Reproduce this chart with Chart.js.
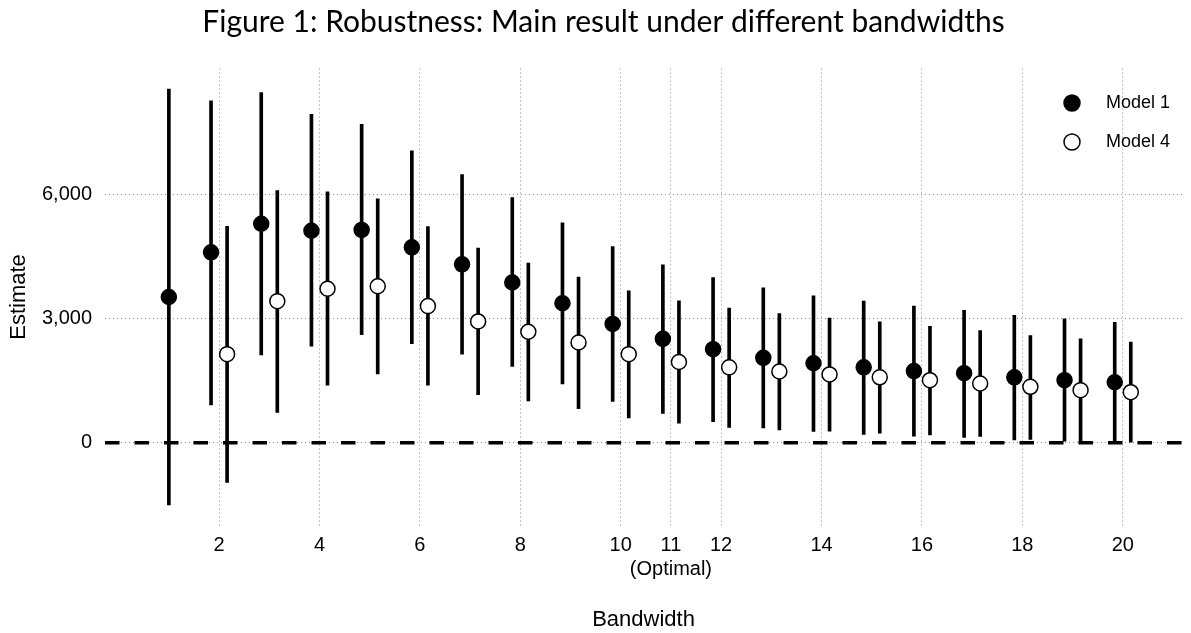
<!DOCTYPE html>
<html>
<head>
<meta charset="utf-8">
<script src="https://cdn.jsdelivr.net/npm/chart.js@4.4.1/dist/chart.umd.min.js"></script>
<style>
  html, body { margin: 0; padding: 0; background: #fff; }
</style>
</head>
<body>
<canvas id="chart" width="1191" height="633"></canvas>
<script>
// ── Data ──────────────────────────────────────────────────────────────────────
const bandwidths = [1, 2, 3, 4, 5, 6, 7, 8, 9, 10, 11, 12, 13, 14, 15, 16, 17, 18, 19, 20];

const model1Est = [3520, 4600, 5290, 5120, 5140, 4720, 4310, 3870, 3370, 2870, 2510, 2260, 2050, 1920, 1820, 1730, 1680, 1580, 1510, 1460];
const model1Lo  = [-1500, 910, 2120, 2330, 2610, 2390, 2140, 1840, 1420, 1000, 710, 510, 360, 270, 200, 160, 130, 65, 40, 10];
const model1Hi  = [8540, 8260, 8460, 7930, 7690, 7050, 6480, 5920, 5310, 4740, 4300, 3990, 3740, 3550, 3420, 3300, 3200, 3080, 2990, 2910];

const model4Est = [null, 2140, 3420, 3720, 3780, 3300, 2930, 2680, 2420, 2140, 1950, 1820, 1720, 1650, 1580, 1510, 1430, 1350, 1270, 1220];
const model4Lo  = [null, -960, 730, 1390, 1660, 1390, 1160, 1010, 820, 600, 470, 370, 310, 280, 230, 190, 150, 80, 20, 0];
const model4Hi  = [null, 5230, 6090, 6060, 5890, 5220, 4700, 4340, 4000, 3670, 3430, 3250, 3120, 3010, 2920, 2810, 2710, 2590, 2510, 2430];

const xTicks = [2, 4, 6, 8, 10, 11, 12, 14, 16, 18, 20];
const xTickLabels = ['2', '4', '6', '8', '10', ['11', '(Optimal)'], '12', '14', '16', '18', '20'];
const yTicks = [0, 3000, 6000];

const seriesNames = ['Model 1', 'Model 4'];
const TITLE = 'Figure 1: Robustness: Main result under different bandwidths';

// ── Dodge (like position_dodge): shift only where both models exist ──────────
const DODGE = 0.16;
function xPos(i, side) {
  return model4Est[i] == null ? bandwidths[i] : bandwidths[i] + side * DODGE;
}
function points(est, side) {
  return bandwidths.map((b, i) => est[i] == null ? null : { x: xPos(i, side), y: est[i] }).filter(Boolean);
}
function ranges(est, lo, hi, side) {
  return bandwidths.map((b, i) => est[i] == null ? null : { x: xPos(i, side), y: [lo[i], hi[i]] }).filter(Boolean);
}

const TICK_FONT = { family: '"Liberation Sans", Arial, sans-serif', size: 20 };
const AXIS_FONT = { family: '"Liberation Sans", Arial, sans-serif', size: 22 };
const GRID_COLOR = 'rgba(0,0,0,0.45)';

// ── Plugins: title, zero line, legend ─────────────────────────────────────────
const figTitle = {
  id: 'figTitle',
  afterDraw(chart) {
    const ctx = chart.ctx;
    ctx.save();
    ctx.font = '30px Lato, "Liberation Sans", sans-serif';
    ctx.fillStyle = '#000';
    ctx.textAlign = 'center';
    ctx.textBaseline = 'alphabetic';
    ctx.fillText(TITLE, 603.5, 31.5);
    ctx.restore();
  }
};

const zeroLine = {
  id: 'zeroLine',
  beforeDatasetsDraw(chart) {
    const { ctx, chartArea, scales } = chart;
    const y = scales.y.getPixelForValue(0);
    ctx.save();
    ctx.strokeStyle = '#000';
    ctx.lineWidth = 3.5;
    ctx.setLineDash([14.5, 15]);
    ctx.beginPath();
    ctx.moveTo(chartArea.left, y);
    ctx.lineTo(chartArea.right, y);
    ctx.stroke();
    ctx.restore();
  }
};

const insideLegend = {
  id: 'insideLegend',
  afterDraw(chart) {
    const ctx = chart.ctx;
    const pts = chart.data.datasets.filter(d => d.type === 'scatter');
    ctx.save();
    pts.forEach((ds, k) => {
      const cy = 103 + k * 39;
      ctx.beginPath();
      ctx.arc(1072, cy, 8, 0, Math.PI * 2);
      ctx.fillStyle = ds.backgroundColor;
      ctx.fill();
      ctx.lineWidth = ds.borderWidth;
      ctx.strokeStyle = ds.borderColor;
      ctx.stroke();
      ctx.fillStyle = '#000';
      ctx.font = '18px "Liberation Sans", Arial, sans-serif';
      ctx.textAlign = 'left';
      ctx.textBaseline = 'middle';
      ctx.fillText(ds.label, 1106, cy);
    });
    ctx.restore();
  }
};

// ── Chart ─────────────────────────────────────────────────────────────────────
new Chart(document.getElementById('chart'), {
  type: 'scatter',
  data: {
    datasets: [
      {
        type: 'scatter', label: seriesNames[0], data: points(model1Est, -1),
        backgroundColor: '#000', borderColor: '#000', borderWidth: 1.5,
        pointRadius: 7.5, pointHoverRadius: 7.5, order: 1
      },
      {
        type: 'scatter', label: seriesNames[1], data: points(model4Est, 1),
        backgroundColor: '#fff', borderColor: '#000', borderWidth: 1.5,
        pointRadius: 7.5, pointHoverRadius: 7.5, order: 1
      },
      {
        type: 'bar', label: seriesNames[0] + ' CI', data: ranges(model1Est, model1Lo, model1Hi, -1),
        backgroundColor: '#000', barThickness: 3, grouped: false, order: 2
      },
      {
        type: 'bar', label: seriesNames[1] + ' CI', data: ranges(model4Est, model4Lo, model4Hi, 1),
        backgroundColor: '#000', barThickness: 3, grouped: false, order: 2
      }
    ]
  },
  options: {
    responsive: false,
    animation: false,
    devicePixelRatio: 1,
    layout: { padding: { top: 68.5, left: 0, right: 0, bottom: 0 } },
    plugins: {
      legend: { display: false },
      title: { display: false },
      tooltip: { enabled: false }
    },
    scales: {
      x: {
        type: 'linear',
        min: -0.272,
        max: 21.18,
        offset: false,
        afterBuildTicks: s => { s.ticks = xTicks.map(v => ({ value: v })); },
        afterFit: s => { s.height = 107.5; },
        ticks: {
          color: '#000', font: TICK_FONT, padding: 8, maxRotation: 0, autoSkip: false,
          callback: v => xTickLabels[xTicks.indexOf(v)]
        },
        grid: { color: GRID_COLOR, lineWidth: 1, drawTicks: false, offset: false },
        border: { display: false, dash: [1, 3] },
        title: { display: true, text: 'Bandwidth', color: '#000', font: AXIS_FONT, padding: { top: 0, bottom: 0 } }
      },
      y: {
        type: 'linear',
        min: -2000,
        max: 9040,
        afterBuildTicks: s => { s.ticks = yTicks.map(v => ({ value: v })); },
        afterFit: s => { s.width = 105; },
        ticks: {
          color: '#000', font: TICK_FONT, padding: 13,
          callback: v => v.toLocaleString('en-US')
        },
        grid: { color: GRID_COLOR, lineWidth: 1, drawTicks: false },
        border: { display: false, dash: [1, 3] },
        title: { display: true, text: 'Estimate', color: '#000', font: AXIS_FONT, padding: { top: 6, bottom: 0 } }
      }
    }
  },
  plugins: [zeroLine, figTitle, insideLegend]
});
</script>
</body>
</html>
